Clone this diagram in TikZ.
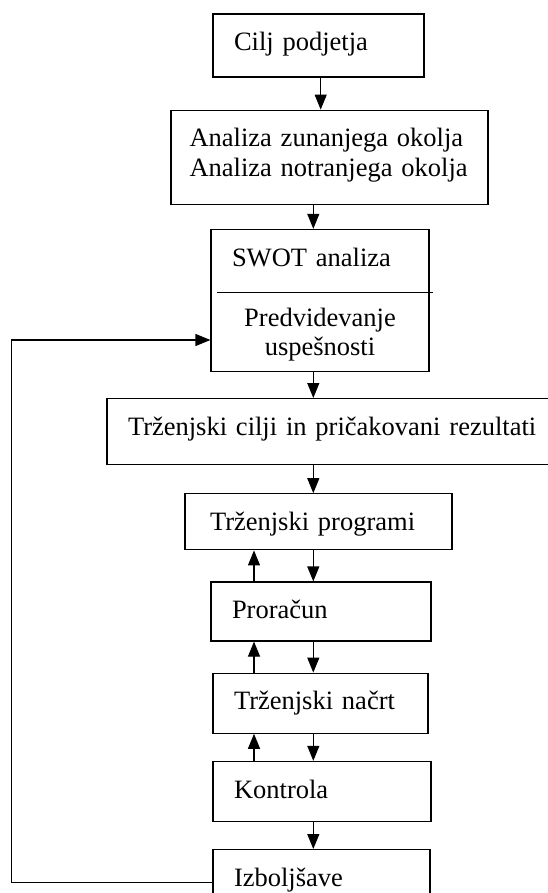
\documentclass[tikz,border=0pt]{standalone}
\usepackage{fontspec}
\setmainfont{Liberation Serif}
\usetikzlibrary{arrows.meta, positioning, calc}
\tikzstyle{box} = [rectangle, draw=black, line width=0.6pt, align=left, inner xsep=10.5pt, inner ysep=9.35pt, text height=9pt, font=\fontsize{13.25pt}{15pt}\selectfont]
\tikzstyle{arrow} = [line width=0.6pt, -{Triangle[width=6pt,length=7.5pt]}]

\begin{document}
\begin{tikzpicture}
    \useasboundingbox (0,0) rectangle (273.5pt,-446.5pt);
    \node (cilj) [box, text width=84.5pt, text depth=3.8pt] at (159.25pt,-22.75pt) {Cilj podjetja};
    \node (analiza) [box, below=16pt of cilj, xshift=5.5pt, inner xsep=9.25pt, text width=140pt, text depth=19.3pt] {Analiza zunanjega okolja\\Analiza notranjega okolja};
    \node (swot) [box, below=12pt of analiza, xshift=-4.75pt, text width=88pt, text depth=43.3pt] {SWOT analiza};
    % delitev okvirja SWOT
    \draw [line width=0.6pt] ([shift={(3.5pt,-32pt)}]swot.north west) -- ([shift={(1.5pt,-32pt)}]swot.north east);
    \node (pred) [below=39.5pt of swot.north, inner sep=0pt, align=center, font=\fontsize{13.25pt}{14.5pt}\selectfont] {Predvidevanje\\uspešnosti};

    \node (cilji) [box, below=13pt of swot, xshift=8.5pt, text width=209pt, text depth=5.3pt] {Trženjski cilji in pričakovani rezultati};
    \node (programi) [box, below=14pt of cilji, xshift=-9.25pt, inner xsep=12.5pt, text width=108.5pt, text depth=0.3pt] {Trženjski programi};
    \node (proracun) [box, below=15.5pt of programi, xshift=1.25pt, text width=89pt, text depth=1.8pt] {Proračun};
    \node (nacrt) [box, below=15.5pt of proracun, xshift=-0.25pt, text width=86.5pt, text depth=2.3pt] {Trženjski načrt};
    \node (kontrola) [box, below=13.5pt of nacrt, xshift=0.75pt, text width=88pt, text depth=2.3pt] {Kontrola};
    \node (izbolj) [box, below=13.5pt of kontrola, xshift=-0.25pt, text width=87.5pt, text depth=5.3pt] {Izboljšave};

    \coordinate (first) at (160.35pt,0);
    \coordinate (mid) at (156.65pt,0);
    \coordinate (up) at (127pt,0);
    \coordinate (edge) at (5.85pt,0);
    \coordinate (back) at ([yshift=16pt]swot.south west);

    \draw [arrow] (cilj.south -| first) -- (analiza.north -| first);
    \draw [arrow] (analiza.south -| mid) -- (swot.north -| mid);
    \draw [arrow] (swot.south -| mid) -- (cilji.north -| mid);
    \draw [arrow] (cilji.south -| mid) -- (programi.north -| mid);
    \draw [arrow] (programi.south -| mid) -- (proracun.north -| mid);
    \draw [arrow] (proracun.south -| mid) -- (nacrt.north -| mid);
    \draw [arrow] (nacrt.south -| mid) -- (kontrola.north -| mid);
    \draw [arrow] (kontrola.south -| mid) -- (izbolj.north -| mid);
    % povratne puscice
    \draw [arrow] (proracun.north -| up) -- (programi.south -| up);
    \draw [arrow] (nacrt.north -| up) -- (proracun.south -| up);
    \draw [arrow] (kontrola.north -| up) -- (nacrt.south -| up);
    \draw [arrow] (izbolj.west) -- (izbolj.west -| edge) |- (back);
\end{tikzpicture}
\end{document}
